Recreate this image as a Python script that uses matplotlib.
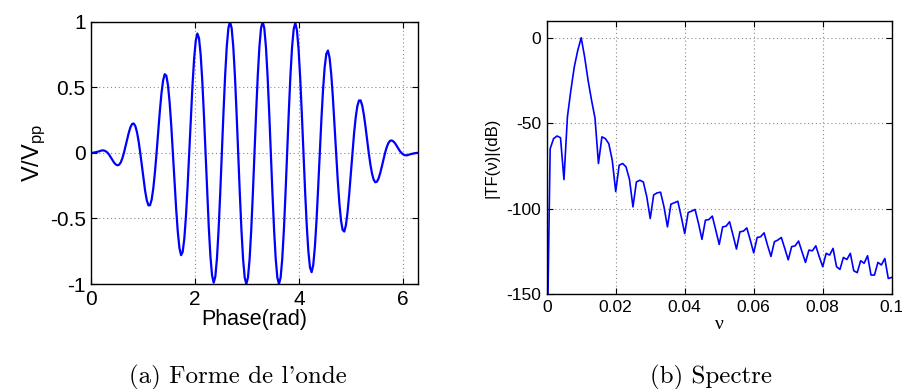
"""Forme de l'onde et spectre (style MATLAB)."""

import numpy as np
import matplotlib
matplotlib.use("Agg")
import matplotlib.pyplot as plt

plt.rcParams["font.family"] = ["Liberation Sans", "DejaVu Sans"]
plt.rcParams["mathtext.default"] = "regular"
plt.rcParams["axes.unicode_minus"] = False

# signal normalise, echantillonne sur [0, 2pi]
wave = [
    0.000, 0.001, 0.003, 0.006, 0.009, 0.012, 0.017, 0.019, 0.017, 0.011,
    0.000, -0.015, -0.035, -0.056, -0.075, -0.088, -0.095, -0.091, -0.074, -0.043,
    0.000, 0.051, 0.105, 0.155, 0.196, 0.220, 0.224, 0.204, 0.158, 0.088,
    0.000, -0.099, -0.200, -0.291, -0.361, -0.400, -0.399, -0.356, -0.270, -0.148,
    0.000, 0.161, 0.318, 0.453, 0.552, 0.600, 0.588, 0.515, 0.385, 0.208,
    0.000, -0.219, -0.427, -0.602, -0.725, -0.780, -0.755, -0.654, -0.483, -0.258,
    0.000, 0.266, 0.514, 0.717, 0.854, 0.910, 0.874, 0.751, 0.551, 0.292,
    0.000, -0.297, -0.570, -0.790, -0.935, -0.990, -0.943, -0.804, -0.586, -0.308,
    0.000, 0.309, 0.588, 0.809, 0.951, 1.000, 0.951, 0.809, 0.588, 0.309,
    0.000, -0.309, -0.588, -0.809, -0.951, -1.000, -0.951, -0.809, -0.588, -0.309,
    0.000, 0.309, 0.588, 0.809, 0.951, 1.000, 0.951, 0.809, 0.588, 0.309,
    0.000, -0.309, -0.588, -0.809, -0.951, -1.000, -0.951, -0.809, -0.588, -0.309,
    0.000, 0.308, 0.586, 0.804, 0.943, 0.990, 0.935, 0.790, 0.570, 0.297,
    0.000, -0.292, -0.551, -0.751, -0.874, -0.910, -0.854, -0.717, -0.514, -0.266,
    0.000, 0.258, 0.483, 0.654, 0.755, 0.780, 0.725, 0.602, 0.427, 0.219,
    0.000, -0.208, -0.385, -0.515, -0.588, -0.600, -0.552, -0.453, -0.318, -0.161,
    0.000, 0.148, 0.270, 0.356, 0.399, 0.400, 0.361, 0.291, 0.200, 0.099,
    0.000, -0.088, -0.158, -0.204, -0.224, -0.220, -0.196, -0.155, -0.105, -0.051,
    0.000, 0.043, 0.074, 0.091, 0.095, 0.088, 0.075, 0.056, 0.035, 0.015,
    0.000, -0.011, -0.017, -0.019, -0.017, -0.012, -0.009, -0.006, -0.003, -0.001,
    0.000,
]

# module de la TF en dB, pas de 0.001
spectrum_db = [
    -200.0, -65.0, -59.0, -57.5, -58.5, -83.0, -46.4, -30.8, -17.0, -7.4,
    0.0, -11.3, -25.0, -36.6, -47.0, -73.6, -58.0, -59.0, -62.0, -71.7,
    -90.0, -74.6, -73.6, -75.6, -83.0, -99.0, -84.4, -83.4, -84.4, -93.0,
    -105.8, -92.0, -90.8, -90.4, -99.0, -110.7, -97.4, -96.6, -95.7, -104.8,
    -114.6, -102.3, -101.5, -100.5, -108.7, -118.0, -106.8, -106.4, -104.4, -112.6,
    -121.0, -110.7, -110.3, -107.7, -115.5, -123.7, -113.6, -113.2, -111.3, -118.4,
    -125.9, -116.9, -116.5, -114.2, -121.4, -128.0, -119.4, -118.4, -116.9, -123.3,
    -130.0, -122.3, -121.8, -119.0, -125.3, -131.5, -124.3, -124.7, -121.8, -128.2,
    -134.0, -126.2, -127.2, -123.3, -134.0, -135.6, -128.6, -129.8, -126.2, -136.4,
    -137.5, -130.5, -132.0, -127.6, -138.9, -138.9, -131.5, -133.0, -129.2, -140.9,
    -140.3,
]

phase = np.linspace(0, 2 * np.pi, len(wave))
nu = np.arange(len(spectrum_db)) / 1000.0

BLUE = "#0000ff"
GRID = dict(color="#8a8a8a", linestyle=(0, (1, 2.5)), linewidth=0.8)


def matlab_axes(ax, size):
    ax.grid(True, **GRID)
    ax.tick_params(direction="in", top=True, right=True, length=4, width=0.8,
                   labelsize=size, pad=4)
    for spine in ax.spines.values():
        spine.set_linewidth(1.0)


fig = plt.figure(figsize=(9.02, 3.89), dpi=100)

left = fig.add_axes([0.1012, 0.2699, 0.3619, 0.6743])
left.plot(phase, wave, color=BLUE, linewidth=1.6)
left.set_xlim(0, 2 * np.pi)
left.set_ylim(-1, 1)
left.set_xticks([0, 2, 4, 6], ["0", "2", "4", "6"])
left.set_yticks([-1, -0.5, 0, 0.5, 1], ["-1", "-0.5", "0", "0.5", "1"])
matlab_axes(left, 15)
left.set_xlabel("Phase(rad)", fontsize=15.5, labelpad=0)
left.set_ylabel("V/V$_{pp}$", fontsize=17, labelpad=1)

right = fig.add_axes([0.6061, 0.2442, 0.3825, 0.7026])
right.plot(nu, spectrum_db, color=BLUE, linewidth=1.2)
right.set_xlim(0, 0.1)
right.set_ylim(-150, 10)
right.set_xticks([0, 0.02, 0.04, 0.06, 0.08, 0.1],
                 ["0", "0.02", "0.04", "0.06", "0.08", "0.1"])
right.set_yticks([-150, -100, -50, 0], ["-150", "-100", "-50", "0"])
matlab_axes(right, 12.5)
right.set_xlabel("ν", fontsize=14, family="Liberation Serif", labelpad=1)
right.set_ylabel("|TF(ν)|(dB)", fontsize=12, labelpad=5)

fig.text(238 / 902, 1 - 377 / 389, "(a) Forme de l'onde", family="cmr10",
         fontsize=18, ha="center", va="center")
fig.text(711 / 902, 1 - 377 / 389, "(b) Spectre", family="cmr10",
         fontsize=18, ha="center", va="center")

fig.savefig("out.png", dpi=100, facecolor="white")
